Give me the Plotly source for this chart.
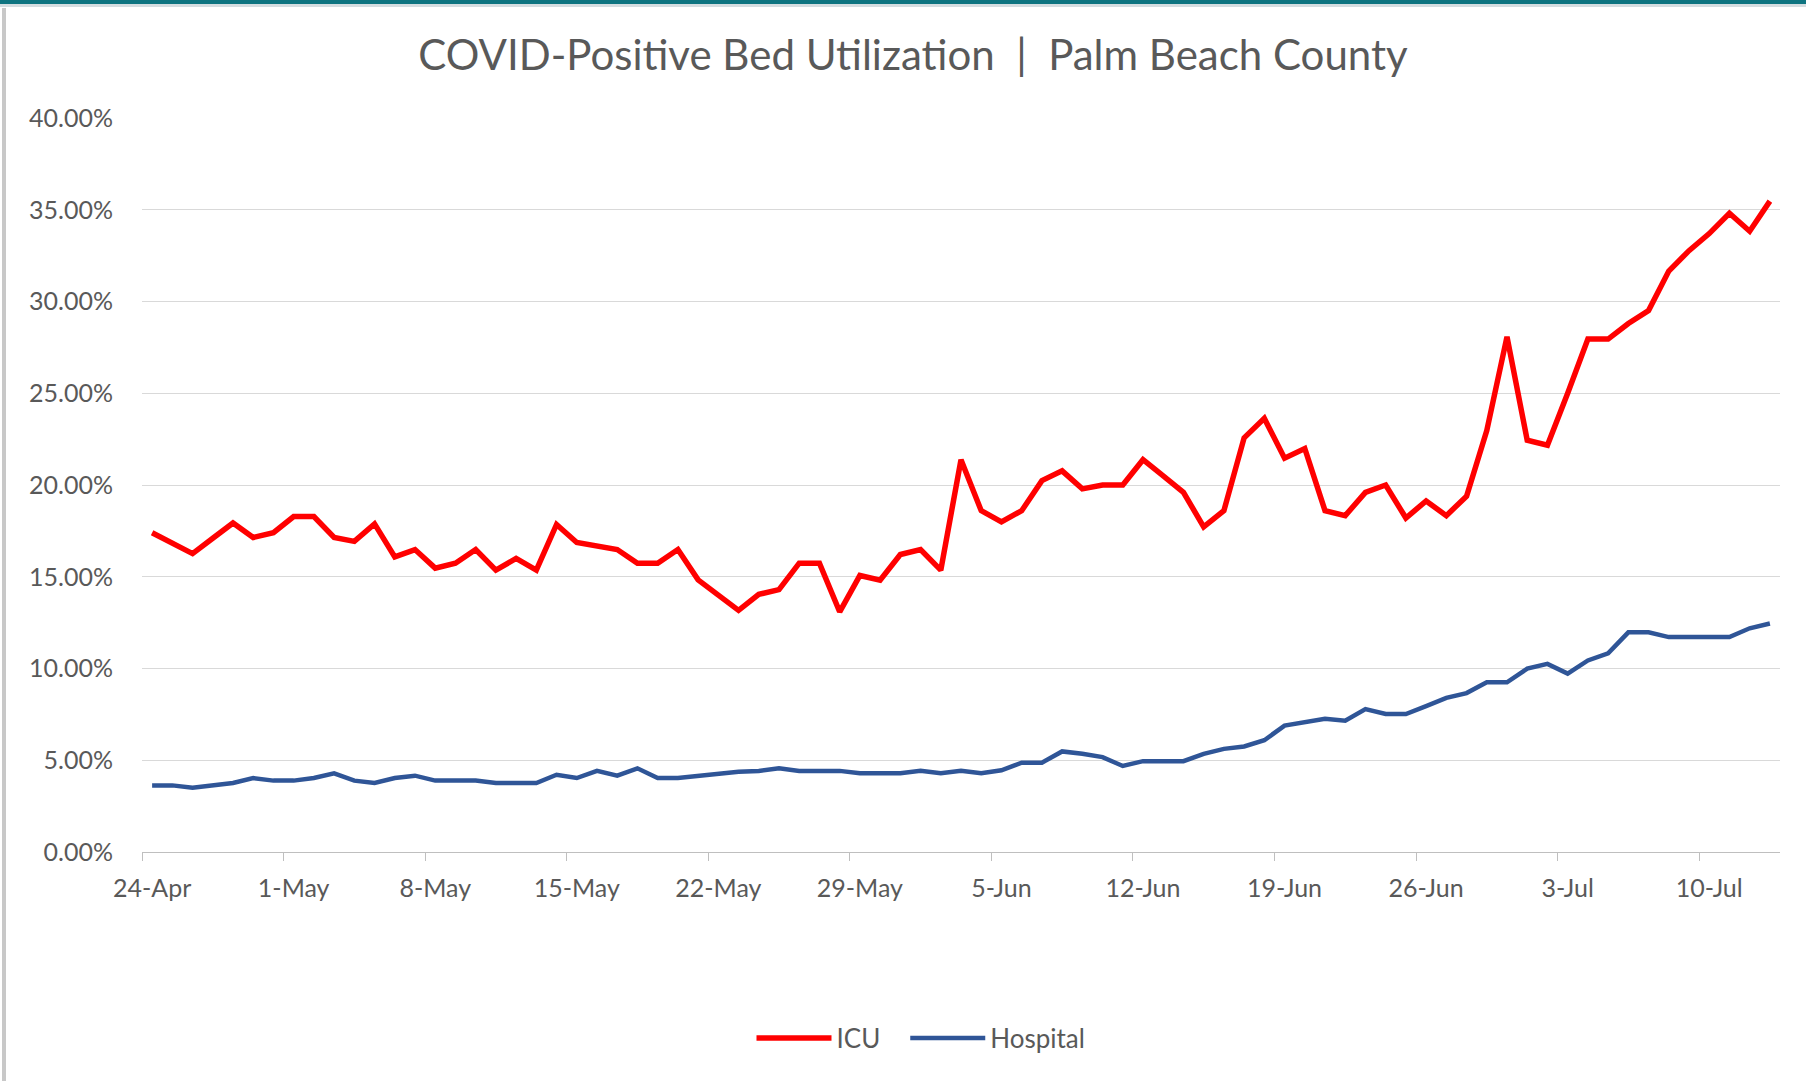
import pandas as pd
import plotly.graph_objects as go

# ---------------- data ----------------
start_date = "2020-04-24"

icu = [17.40, 16.83, 16.26, 17.10, 17.93, 17.14, 17.40, 18.28, 18.28, 17.14,
       16.93, 17.88, 16.08, 16.48, 15.47, 15.74, 16.48, 15.36, 16.00, 15.36,
       17.85, 16.87, 16.69, 16.48, 15.74, 15.74, 16.48, 14.83, 14.00, 13.17,
       14.04, 14.30, 15.74, 15.74, 13.09, 15.07, 14.81, 16.21, 16.48, 15.36,
       21.38, 18.60, 17.99, 18.60, 20.24, 20.77, 19.79, 20.00, 20.00, 21.38,
       20.50, 19.60, 17.72, 18.60, 22.57, 23.63, 21.46, 21.99, 18.60, 18.33,
       19.60, 20.00, 18.20, 19.13, 18.33, 19.39, 22.97, 28.08, 22.44, 22.17,
       25.00, 27.95, 27.95, 28.80, 29.51, 31.66, 32.77, 33.70, 34.81, 33.83,
       35.47]

hospital = [3.63, 3.63, 3.50, 3.60, 3.76, 4.03, 3.89, 3.89, 4.03, 4.29,
            3.89, 3.76, 4.03, 4.16, 3.89, 3.89, 3.89, 3.76, 3.76, 3.76,
            4.21, 4.03, 4.42, 4.16, 4.56, 4.03, 4.03, 4.16, 4.30, 4.37,
            4.42, 4.56, 4.42, 4.42, 4.42, 4.29, 4.29, 4.29, 4.42, 4.29,
            4.42, 4.29, 4.45, 4.87, 4.87, 5.48, 5.35, 5.17, 4.69, 4.95,
            4.95, 4.95, 5.35, 5.62, 5.75, 6.09, 6.89, 7.05, 7.26, 7.15,
            7.79, 7.52, 7.52, 7.95, 8.40, 8.66, 9.25, 9.25, 9.99, 10.25,
            9.72, 10.44, 10.83, 11.97, 11.97, 11.71, 11.71, 11.71, 11.71, 12.19,
            12.45]

tick_dates = ["2020-04-24", "2020-05-01", "2020-05-08", "2020-05-15", "2020-05-22",
              "2020-05-29", "2020-06-05", "2020-06-12", "2020-06-19", "2020-06-26",
              "2020-07-03", "2020-07-10"]
tick_labels = ["24-Apr", "1-May", "8-May", "15-May", "22-May", "29-May",
               "5-Jun", "12-Jun", "19-Jun", "26-Jun", "3-Jul", "10-Jul"]

y_ticks = [0, 0.05, 0.10, 0.15, 0.20, 0.25, 0.30, 0.35, 0.40]

# points sit in the middle of each day (Excel date axis, between tick marks)
dates = pd.date_range(start_date, periods=len(icu), freq="D") + pd.Timedelta(hours=12)
label_pos = [pd.Timestamp(d) + pd.Timedelta(hours=12) for d in tick_dates]
axis_end = pd.Timestamp(start_date) + pd.Timedelta(days=len(icu))

# ---------------- figure ----------------
W, H = 1806, 1081
L, R, T, B = 142, 26, 118, 229
pw, ph = W - L - R, H - T - B

def px_x(px):
    return (px - L) / pw

def px_y(py):
    return (H - B - py) / ph

FONT = "Lato, 'Open Sans', sans-serif"
GREY = "#595959"
NBSP = "\u00a0"

fig = go.Figure()
fig.add_trace(go.Scatter(x=dates, y=[v / 100 for v in icu], name="ICU" + NBSP * 3, mode="lines",
                         line=dict(color="#FF0000", width=5.5)))
fig.add_trace(go.Scatter(x=dates, y=[v / 100 for v in hospital], name="Hospital", mode="lines",
                         line=dict(color="#2F5597", width=4.5)))

fig.update_layout(
    width=W, height=H,
    margin=dict(l=L, r=R, t=T, b=B),
    paper_bgcolor="white", plot_bgcolor="white",
    font=dict(family=FONT, color=GREY, size=22),
    title=dict(text="COVID-Positive Bed Utilization  |  Palm Beach County",
               x=913 / W, xref="container", xanchor="center",
               y=1 - 55 / H, yref="container", yanchor="middle",
               font=dict(family=FONT, size=42, color=GREY)),
    showlegend=True,
    legend=dict(orientation="h", x=px_x(921), xanchor="center",
                y=px_y(1038), yanchor="middle",
                font=dict(size=26, color=GREY), itemwidth=75,
                bgcolor="rgba(0,0,0,0)"),
    hovermode=False,
)

fig.update_xaxes(
    type="date",
    range=[pd.Timestamp(start_date), axis_end],
    tickmode="array", tickvals=label_pos, ticktext=tick_labels,
    ticks="", showgrid=False,
    showline=True, linecolor="#BFBFBF", linewidth=1.2,
    ticklabelstandoff=14,
    tickfont=dict(size=25, color=GREY),
    minor=dict(tickmode="array", tickvals=tick_dates, ticks="outside",
               ticklen=8, tickcolor="#BFBFBF", tickwidth=1.2, showgrid=False),
    zeroline=False,
)

fig.update_yaxes(
    range=[0, 0.40], tickmode="array", tickvals=y_ticks, tickformat=".2%",
    showgrid=True, gridcolor="#D9D9D9", gridwidth=1.2,
    showline=False, zeroline=False, ticks="",
    ticklabelstandoff=28,
    tickfont=dict(size=25, color=GREY),
)

# frame decorations seen in the screenshot (teal top bar, grey left edge)
fig.add_shape(type="rect", xref="paper", yref="paper",
              x0=px_x(0), x1=px_x(W), y0=px_y(4), y1=px_y(0),
              fillcolor="#0E7480", line=dict(width=0), layer="above")
fig.add_shape(type="rect", xref="paper", yref="paper",
              x0=px_x(0), x1=px_x(W), y0=px_y(7), y1=px_y(4),
              fillcolor="#D5DDE0", line=dict(width=0), layer="above")
fig.add_shape(type="rect", xref="paper", yref="paper",
              x0=px_x(2), x1=px_x(6), y0=px_y(H), y1=px_y(8),
              fillcolor="#C8C8C8", line=dict(width=0), layer="above")

fig.write_html("out.html", config={"displayModeBar": False},
               post_script="document.body.style.margin='0';")
